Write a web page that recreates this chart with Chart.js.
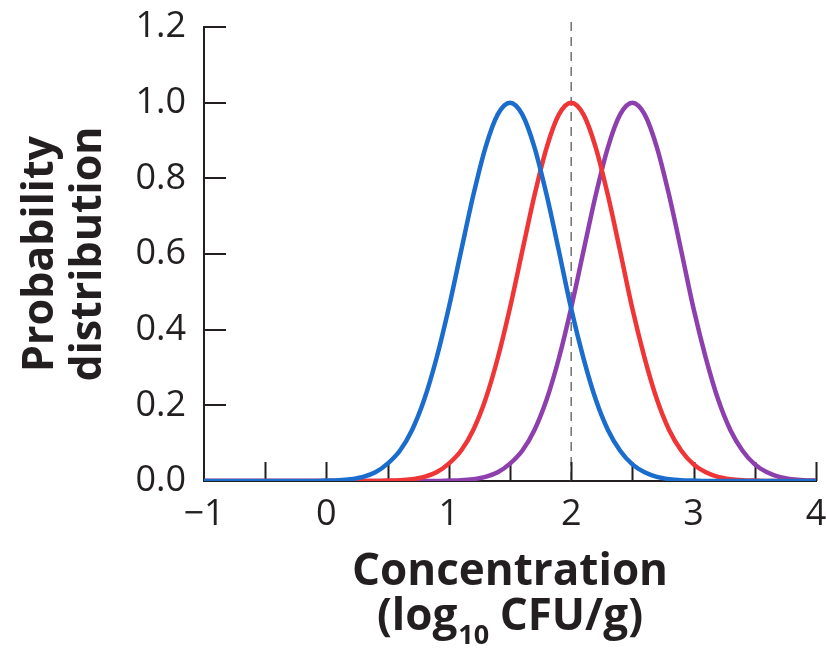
<!DOCTYPE html>
<html>
<head>
<meta charset="utf-8">
<script src="https://cdn.jsdelivr.net/npm/chart.js@4/dist/chart.umd.min.js"></script>
<style>
  html, body { margin: 0; padding: 0; background: #ffffff; }
  canvas { display: block; }
</style>
</head>
<body>
<canvas id="chart" width="826" height="652"></canvas>
<script>
// Concentration grid (log10 CFU/g)
const concentration = [
  -1.0, -0.9, -0.8, -0.7, -0.6, -0.5, -0.4, -0.3, -0.2, -0.1,
   0.0,  0.1,  0.2,  0.3,  0.4,  0.5,  0.6,  0.7,  0.8,  0.9,
   1.0,  1.1,  1.2,  1.3,  1.4,  1.5,  1.6,  1.7,  1.8,  1.9,
   2.0,  2.1,  2.2,  2.3,  2.4,  2.5,  2.6,  2.7,  2.8,  2.9,
   3.0,  3.1,  3.2,  3.3,  3.4,  3.5,  3.6,  3.7,  3.8,  3.9, 4.0
];

// Probability distribution, peak at 1.5
const lowLevel = [
  0, 0, 0, 0, 0, 0, 0, 0, 0, 0,
  0.001, 0.002, 0.005, 0.011, 0.023, 0.046, 0.080, 0.135, 0.216, 0.325,
  0.458, 0.607, 0.755, 0.882, 0.969, 1.000, 0.969, 0.882, 0.755, 0.607,
  0.455, 0.325, 0.216, 0.135, 0.080, 0.044, 0.023, 0.011, 0.005, 0.002,
  0.001, 0, 0, 0, 0, 0, 0, 0, 0, 0, 0
];

// Probability distribution, peak at 2.0
const midLevel = [
  0, 0, 0, 0, 0, 0, 0, 0, 0, 0,
  0, 0, 0, 0, 0, 0.001, 0.002, 0.005, 0.011, 0.023,
  0.046, 0.080, 0.135, 0.216, 0.325, 0.458, 0.607, 0.755, 0.882, 0.969,
  1.000, 0.969, 0.882, 0.755, 0.607, 0.455, 0.325, 0.216, 0.135, 0.080,
  0.044, 0.023, 0.011, 0.005, 0.002, 0.001, 0, 0, 0, 0, 0
];

// Probability distribution, peak at 2.5
const highLevel = [
  0, 0, 0, 0, 0, 0, 0, 0, 0, 0,
  0, 0, 0, 0, 0, 0, 0, 0, 0, 0,
  0.001, 0.002, 0.005, 0.011, 0.023, 0.046, 0.080, 0.135, 0.216, 0.325,
  0.458, 0.607, 0.755, 0.882, 0.969, 1.000, 0.969, 0.882, 0.755, 0.607,
  0.455, 0.325, 0.216, 0.135, 0.080, 0.044, 0.023, 0.011, 0.005, 0.002, 0.001
];

const yTickValues = [0.0, 0.2, 0.4, 0.6, 0.8, 1.0, 1.2];
const xTickValues = [-1, 0, 1, 2, 3, 4];
const xTickMarks = [-0.5, 0, 0.5, 1, 1.5, 2, 2.5, 3, 3.5, 4];
const referenceConcentration = 2;

const INK = '#231f20';
const FONT = '"Open Sans", "DejaVu Sans", sans-serif';

function toPoints(values) {
  return concentration.map((c, i) => ({ x: c, y: values[i] }));
}

// Inward tick marks, dashed reference line and the axis titles
const frameMarks = {
  id: 'frameMarks',
  beforeDatasetsDraw(chart) {
    const { ctx, chartArea, scales: { x, y } } = chart;
    ctx.save();
    const rx = x.getPixelForValue(referenceConcentration);
    ctx.strokeStyle = '#7a7a7a';
    ctx.lineWidth = 1.6;
    ctx.setLineDash([9, 6]);
    ctx.beginPath();
    ctx.moveTo(rx, chartArea.top - 5);
    ctx.lineTo(rx, chartArea.bottom);
    ctx.stroke();
    ctx.setLineDash([]);

    ctx.strokeStyle = INK;
    ctx.lineWidth = 2;
    ctx.beginPath();
    xTickMarks.forEach(v => {
      const px = Math.round(x.getPixelForValue(v)) + 0.5;
      ctx.moveTo(px, chartArea.bottom);
      ctx.lineTo(px, chartArea.bottom - 19);
    });
    yTickValues.forEach(v => {
      if (v === 0) return;
      const py = Math.round(y.getPixelForValue(v));
      ctx.moveTo(chartArea.left, py);
      ctx.lineTo(chartArea.left + 22, py);
    });
    ctx.stroke();
    ctx.restore();
  },
  afterDraw(chart) {
    const { ctx, chartArea } = chart;
    const cx = (chartArea.left + chartArea.right) / 2;
    const cy = (chartArea.top + chartArea.bottom) / 2;
    ctx.save();
    ctx.fillStyle = INK;
    ctx.textBaseline = 'alphabetic';

    // x-axis title, two lines with a subscript
    const bigFont = 'bold 44px ' + FONT;
    const subFont = 'bold 27px ' + FONT;
    ctx.font = bigFont;
    ctx.textAlign = 'center';
    ctx.fillText('Concentration', cx, 585);

    const partA = '(log';
    const sub = '10';
    const partB = ' CFU/g)';
    ctx.font = bigFont;
    const wA = ctx.measureText(partA).width;
    const wB = ctx.measureText(partB).width;
    ctx.font = subFont;
    const wS = ctx.measureText(sub).width;
    const left = cx - (wA + wS + wB) / 2;
    ctx.textAlign = 'left';
    ctx.font = bigFont;
    ctx.fillText(partA, left, 630);
    ctx.font = subFont;
    ctx.fillText(sub, left + wA + 1, 644);
    ctx.font = bigFont;
    ctx.fillText(partB, left + wA + wS, 630);

    // y-axis title, rotated
    ctx.translate(0, cy);
    ctx.rotate(-Math.PI / 2);
    ctx.textAlign = 'center';
    ctx.font = 'bold 43px ' + FONT;
    ctx.fillText('Probability', 0, 53);
    ctx.fillText('distribution', 0, 101);
    ctx.restore();
  }
};

const lineStyle = {
  borderWidth: 4.5,
  pointRadius: 0,
  fill: false,
  cubicInterpolationMode: 'monotone'
};

new Chart(document.getElementById('chart'), {
  type: 'line',
  data: {
    datasets: [
      Object.assign({ label: 'Peak 1.5', data: toPoints(lowLevel), borderColor: '#1a6dcc' }, lineStyle),
      Object.assign({ label: 'Peak 2.0', data: toPoints(midLevel), borderColor: '#ef3535' }, lineStyle),
      Object.assign({ label: 'Peak 2.5', data: toPoints(highLevel), borderColor: '#8e3fae' }, lineStyle)
    ]
  },
  options: {
    responsive: false,
    devicePixelRatio: 1,
    animation: false,
    layout: { padding: { top: 27, right: 10, left: 0, bottom: 0 } },
    plugins: {
      legend: { display: false },
      tooltip: { enabled: false }
    },
    scales: {
      x: {
        type: 'linear',
        min: -1,
        max: 4,
        afterBuildTicks(scale) { scale.ticks = xTickValues.map(v => ({ value: v })); },
        afterFit(scale) {
          scale.height = 171;
          scale.paddingLeft = 0;
          scale.paddingRight = 0;
        },
        grid: { display: false, drawTicks: false },
        border: { display: true, color: INK, width: 2 },
        ticks: {
          color: INK,
          font: { family: FONT, size: 36 },
          padding: 12,
          maxRotation: 0,
          callback: v => (v < 0 ? '\u2212' + Math.abs(v) : String(v))
        }
      },
      y: {
        min: 0,
        max: 1.2,
        afterBuildTicks(scale) { scale.ticks = yTickValues.map(v => ({ value: v })); },
        afterFit(scale) {
          scale.width = 204;
          scale.paddingTop = 0;
          scale.paddingBottom = 0;
        },
        grid: { display: false, drawTicks: false },
        border: { display: true, color: INK, width: 2 },
        ticks: {
          color: INK,
          font: { family: FONT, size: 36 },
          padding: 18,
          callback: v => Number(v).toFixed(1)
        }
      }
    }
  },
  plugins: [frameMarks]
});
</script>
</body>
</html>
